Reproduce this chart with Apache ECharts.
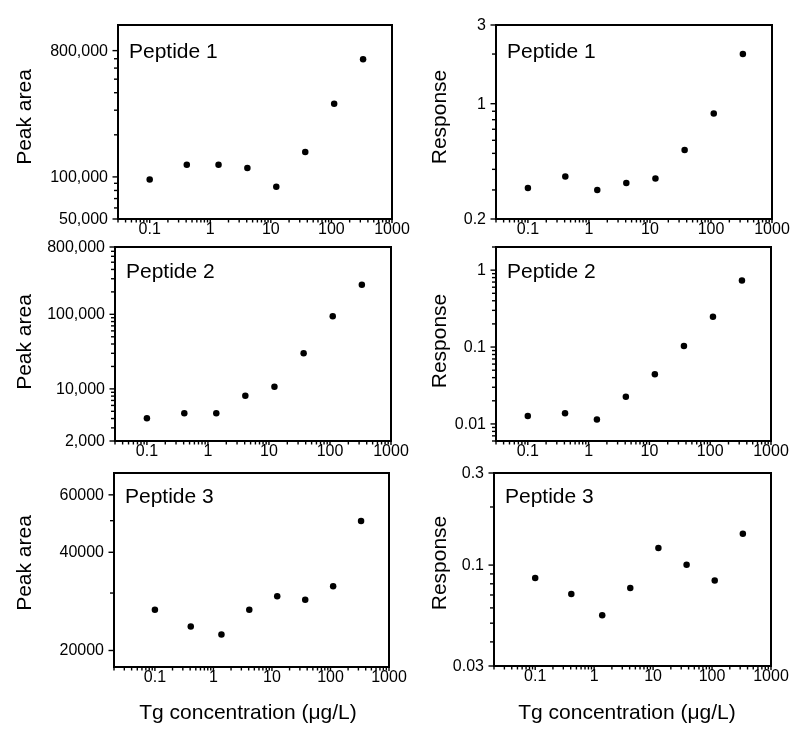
<!DOCTYPE html>
<html>
<head>
<meta charset="utf-8">
<script src="https://cdn.jsdelivr.net/npm/echarts@6/dist/echarts.min.js"></script>
<style>html,body{margin:0;padding:0;background:#fff}#chart{width:800px;height:736px}</style>
</head>
<body>
<div id="chart"></div>
<script>
// ---- data ----
const concentration = [0.1, 0.41, 1.37, 4.1, 12.3, 37, 111, 333];
const peptide1PeakArea = [96000, 122000, 122000, 116000, 85000, 151000, 334000, 694000];
const peptide1Response = [0.308, 0.362, 0.300, 0.331, 0.352, 0.524, 0.873, 2.00];
const peptide2PeakArea = [4050, 4730, 4730, 8060, 10700, 30000, 94000, 249000];
const peptide2Response = [0.0127, 0.0138, 0.0114, 0.0226, 0.0443, 0.103, 0.247, 0.733];
const peptide3PeakArea = [26650, 23700, 22400, 26650, 29350, 28600, 31500, 49900];
const peptide3Response = [0.0856, 0.0708, 0.0550, 0.0760, 0.1225, 0.1005, 0.0833, 0.1455];

const xTickValues = [0.1, 1, 10, 100, 1000];
const xTickLabels = ['0.1', '1', '10', '100', '1000'];
const p1AreaTickValues = [50000, 100000, 800000];
const p1AreaTickLabels = ['50,000', '100,000', '800,000'];
const p1RespTickValues = [0.2, 1, 3];
const p1RespTickLabels = ['0.2', '1', '3'];
const p2AreaTickValues = [2000, 10000, 100000, 800000];
const p2AreaTickLabels = ['2,000', '10,000', '100,000', '800,000'];
const p2RespTickValues = [0.01, 0.1, 1];
const p2RespTickLabels = ['0.01', '0.1', '1'];
const p3AreaTickValues = [20000, 40000, 60000];
const p3AreaTickLabels = ['20000', '40000', '60000'];
const p3RespTickValues = [0.03, 0.1, 0.3];
const p3RespTickLabels = ['0.03', '0.1', '0.3'];

const peptideNames = ['Peptide 1', 'Peptide 2', 'Peptide 3'];
const yTitles = ['Peak area', 'Response'];
const xTitle = 'Tg concentration (\u03bcg/L)';

// ---- layout ----
const FONT = '"Liberation Sans", Arial, sans-serif';
const panels = [
  { grid: {left: 118, top: 25, width: 274, height: 194}, x: [0.03, 1000], y: [50000, 1.22e6], yTickMax: 800000,
    values: peptide1PeakArea, tv: p1AreaTickValues, tl: p1AreaTickLabels, name: 0, title: 0, titleY: 117, nameY: 52 },
  { grid: {left: 496, top: 25, width: 276, height: 194}, x: [0.03, 1000], y: [0.2, 3], yTickMax: 3,
    values: peptide1Response, tv: p1RespTickValues, tl: p1RespTickLabels, name: 0, title: 1, titleY: 117, nameY: 52 },
  { grid: {left: 115, top: 247, width: 276, height: 194}, x: [0.03, 1000], y: [2000, 800000], yTickMax: 800000,
    values: peptide2PeakArea, tv: p2AreaTickValues, tl: p2AreaTickLabels, name: 1, title: 0, titleY: 342, nameY: 272 },
  { grid: {left: 496, top: 247, width: 275, height: 194}, x: [0.03, 1000], y: [0.006, 2], yTickMax: 2,
    values: peptide2Response, tv: p2RespTickValues, tl: p2RespTickLabels, name: 1, title: 1, titleY: 341, nameY: 272 },
  { grid: {left: 114, top: 473, width: 275, height: 194}, x: [0.02, 1000], y: [17800, 70000], yTickMax: 65000,
    values: peptide3PeakArea, tv: p3AreaTickValues, tl: p3AreaTickLabels, name: 2, title: 0, titleY: 563, nameY: 497 },
  { grid: {left: 494, top: 473, width: 277, height: 193}, x: [0.02, 1000], y: [0.03, 0.3], yTickMax: 0.3,
    values: peptide3Response, tv: p3RespTickValues, tl: p3RespTickLabels, name: 2, title: 1, titleY: 563, nameY: 497 }
];

function logTicks(min, max) {
  const out = [];
  for (let k = Math.floor(Math.log10(min)) - 1; k <= Math.ceil(Math.log10(max)); k++) {
    for (let m = 1; m <= 9; m++) {
      const v = +(m * Math.pow(10, k)).toPrecision(6);
      if (v >= min * (1 - 1e-9) && v <= max * (1 + 1e-9)) out.push(v);
    }
  }
  return out;
}

function near(a, b) { return Math.abs(a - b) <= Math.abs(b) * 1e-9; }

function tickSeries(pi, p) {
  const specs = [];
  logTicks(p.x[0], p.x[1]).forEach(v => {
    const idx = xTickValues.findIndex(t => near(v, t));
    specs.push({axis: 'x', v: v, major: idx >= 0, label: idx >= 0 ? xTickLabels[idx] : null});
  });
  logTicks(p.y[0], p.yTickMax).forEach(v => {
    const idx = p.tv.findIndex(t => near(v, t));
    specs.push({axis: 'y', v: v, major: idx >= 0, label: idx >= 0 ? p.tl[idx] : null});
  });
  return {
    type: 'custom', xAxisIndex: pi, yAxisIndex: pi, clip: false, silent: true, z: 5,
    data: specs.map(s => s.axis === 'x' ? [s.v, p.y[0]] : [p.x[0], s.v]),
    renderItem: function (params, api) {
      const s = specs[params.dataIndex];
      const pt = api.coord([api.value(0), api.value(1)]);
      const children = [];
      if (s.axis === 'y') {
        const len = s.major ? 5.5 : 4;
        children.push({type: 'line', shape: {x1: pt[0], y1: pt[1], x2: pt[0] - len, y2: pt[1]},
          style: {stroke: '#000', lineWidth: 1.4}});
        if (s.label) children.push({type: 'text', x: pt[0] - 10, y: pt[1] + 0.5,
          style: {text: s.label, align: 'right', verticalAlign: 'middle', fontSize: 16, fontFamily: FONT, fill: '#000'}});
      } else {
        const len = s.major ? 4 : 3.5;
        children.push({type: 'line', shape: {x1: pt[0], y1: pt[1], x2: pt[0], y2: pt[1] + len},
          style: {stroke: '#000', lineWidth: 1.4}});
        if (s.label) children.push({type: 'text', x: pt[0], y: pt[1] + 10.5,
          style: {text: s.label, align: 'center', verticalAlign: 'middle', fontSize: 16, fontFamily: FONT, fill: '#000'}});
      }
      return {type: 'group', children: children};
    }
  };
}

const grids = [], xAxes = [], yAxes = [], series = [], graphics = [];
panels.forEach((p, i) => {
  grids.push(Object.assign({show: true, borderColor: '#000', borderWidth: 2, backgroundColor: 'transparent',
    containLabel: false, outerBoundsMode: 'none'}, p.grid));
  const hidden = {axisLine: {show: false}, axisTick: {show: false}, axisLabel: {show: false}, splitLine: {show: false}};
  xAxes.push(Object.assign({type: 'log', logBase: 10, gridIndex: i, min: p.x[0], max: p.x[1]}, hidden));
  yAxes.push(Object.assign({type: 'log', logBase: 10, gridIndex: i, min: p.y[0], max: p.y[1]}, hidden));
  series.push({type: 'scatter', xAxisIndex: i, yAxisIndex: i, symbol: 'circle', symbolSize: 6.5,
    itemStyle: {color: '#000', opacity: 1}, z: 6, silent: true,
    data: concentration.map((c, j) => [c, p.values[j]])});
  series.push(tickSeries(i, p));
  graphics.push({type: 'text', x: p.grid.left + 11, y: p.nameY,
    style: {text: peptideNames[p.name], align: 'left', verticalAlign: 'middle', fontSize: 21, fontFamily: FONT, fill: '#000'}});
  graphics.push({type: 'text', x: i % 2 === 0 ? 25 : 440, y: p.titleY, rotation: Math.PI / 2,
    style: {text: yTitles[p.title], align: 'center', verticalAlign: 'middle', fontSize: 21, fontFamily: FONT, fill: '#000'}});
});
graphics.push({type: 'text', x: 248, y: 713,
  style: {text: xTitle, align: 'center', verticalAlign: 'middle', fontSize: 21, fontFamily: FONT, fill: '#000'}});
graphics.push({type: 'text', x: 627, y: 713,
  style: {text: xTitle, align: 'center', verticalAlign: 'middle', fontSize: 21, fontFamily: FONT, fill: '#000'}});

const chart = echarts.init(document.getElementById('chart'), null, {renderer: 'canvas'});
chart.setOption({
  animation: false,
  backgroundColor: '#fff',
  grid: grids, xAxis: xAxes, yAxis: yAxes, series: series, graphic: graphics
});
</script>
</body>
</html>
